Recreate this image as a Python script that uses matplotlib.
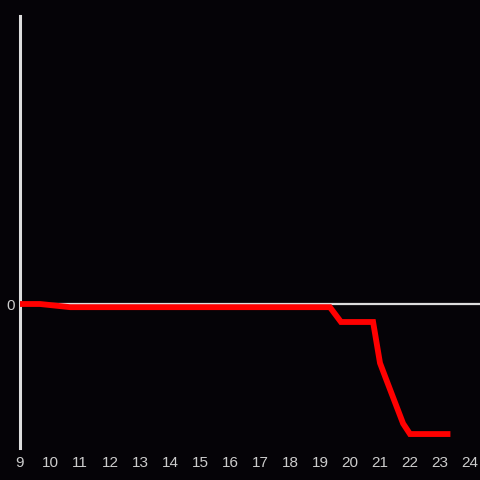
import matplotlib
matplotlib.use("Agg")
import matplotlib.pyplot as plt

hours = [9.0, 9.67, 10.67, 19.33, 19.7, 20.77, 21.0, 21.2, 21.77, 22.0, 23.25]
values = [0.0, 0.0, -0.022, -0.022, -0.125, -0.125, -0.41, -0.52, -0.83, -0.903, -0.903]
xticks = list(range(9, 25))

bg = "#050307"
fig = plt.figure(figsize=(4.8, 4.8), dpi=100, facecolor=bg)
ax = fig.add_axes([20/480, 32/480, 460/480, 432/480], facecolor=bg)
ax.set_xlim(9, 9 + 460/30)
ax.set_ylim(-1, 2)

ax.axhline(0, color="#dddddd", lw=1.6, zorder=1)
ax.plot(hours, values, color="#ff0000", lw=4.2, solid_capstyle="projecting",
        solid_joinstyle="miter", zorder=3)

for s in ["top", "right", "bottom"]:
    ax.spines[s].set_visible(False)
ax.spines["left"].set_color("#dddddd")
ax.spines["left"].set_linewidth(2.2)

ax.set_xticks(xticks)
ax.set_xticklabels([str(t) for t in xticks])
ax.set_yticks([0])
ax.set_yticklabels(["0"])
ax.tick_params(axis="both", length=0, colors="#cccccc", labelsize=11)
ax.tick_params(axis="x", pad=6)
ax.tick_params(axis="y", pad=4)
for lab in ax.get_xticklabels() + ax.get_yticklabels():
    lab.set_fontfamily("Liberation Sans")

fig.savefig("out.png", dpi=100, facecolor=bg)
